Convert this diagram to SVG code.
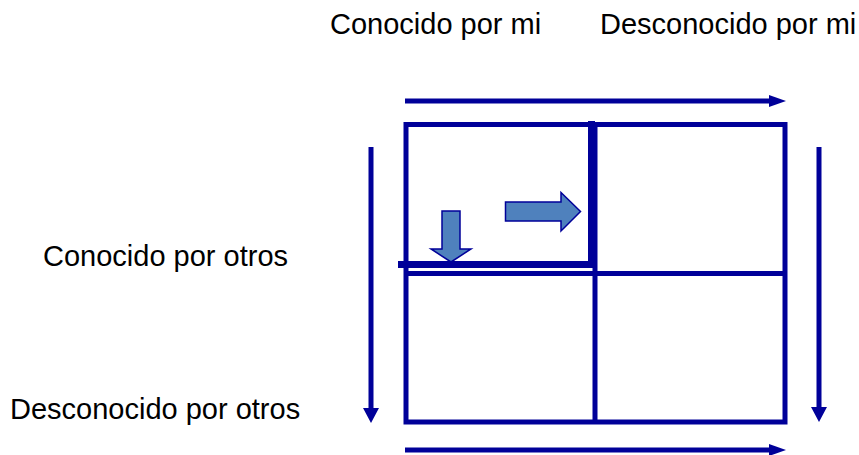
<svg xmlns="http://www.w3.org/2000/svg" width="859" height="455" viewBox="0 0 859 455">
<defs>
<style>
.t{font-family:"Liberation Sans",Arial,sans-serif;font-size:29px;fill:#000}
.ln{stroke:#000099;stroke-width:5;fill:none}
.ax{stroke:#000099;stroke-width:5;fill:none}
.blk{fill:#4F81BD;stroke:#000099;stroke-width:1.5}
</style>
<marker id="ah" markerUnits="userSpaceOnUse" markerWidth="18" markerHeight="12" refX="0" refY="6" orient="auto" viewBox="0 0 18 12">
<path d="M0,0 L17,6 L0,12 Z" fill="#000099"/>
</marker>
<marker id="av" markerUnits="userSpaceOnUse" markerWidth="16" markerHeight="16" refX="0" refY="8" orient="auto" viewBox="0 0 16 16">
<path d="M0,0 L15,8 L0,16 Z" fill="#000099"/>
</marker>
</defs>
<g id="labels">
<text class="t" x="330" y="34">Conocido por mi</text>
<text class="t" x="600" y="34">Desconocido por mi</text>
<text class="t" x="43" y="266">Conocido por otros</text>
<text class="t" x="10" y="419">Desconocido por otros</text>
</g>
<g id="grid">
<rect class="ln" x="406" y="124.5" width="379" height="297.5"/>
<line class="ln" x1="406" y1="273.5" x2="785" y2="273.5"/>
<line class="ln" x1="595" y1="124.5" x2="595" y2="422"/>
</g>
<g id="highlight">
<line stroke="#000099" stroke-width="7" x1="591.5" y1="121" x2="591.5" y2="268"/>
<line stroke="#000099" stroke-width="7" x1="398" y1="264.5" x2="595" y2="264.5"/>
</g>
<g id="connectors">
<line class="ax" x1="405" y1="101" x2="769" y2="101" marker-end="url(#ah)"/>
<line class="ax" x1="405" y1="450" x2="769" y2="450" marker-end="url(#ah)"/>
<line class="ax" x1="371" y1="147" x2="371" y2="408" marker-end="url(#av)"/>
<line class="ax" x1="819" y1="147" x2="819" y2="407" marker-end="url(#av)"/>
</g>
<g id="block-arrows">
<path class="blk" d="M442,211 L460,211 L460,249 L471,249 L451,262 L431,249 L442,249 Z"/>
<path class="blk" d="M505.5,202 L561,202 L561,192.5 L580.5,211.5 L561,231 L561,221 L505.5,221 Z"/>
</g>
</svg>
